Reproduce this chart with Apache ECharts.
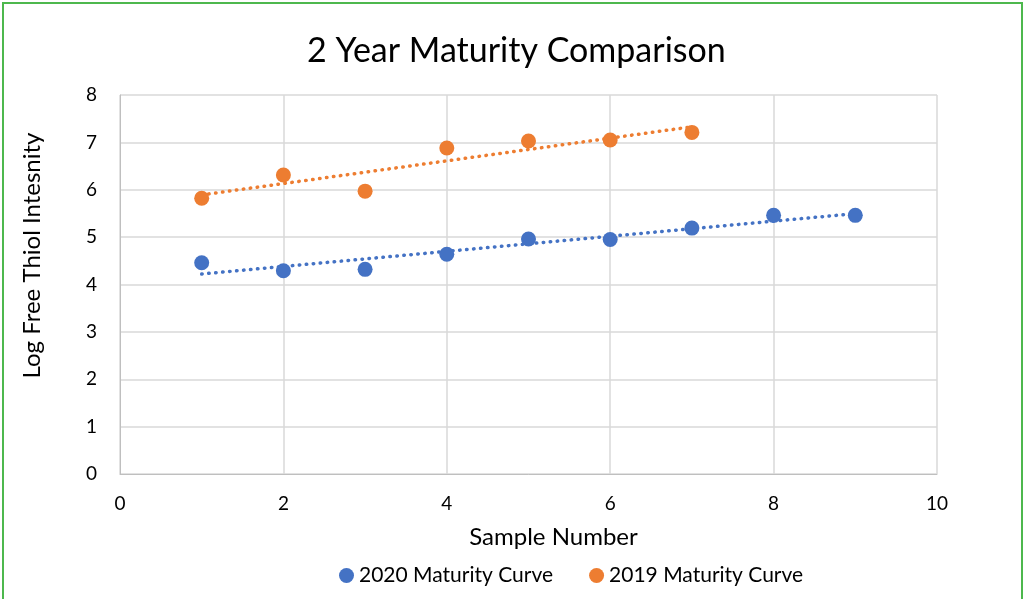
<!DOCTYPE html>
<html><head><meta charset="utf-8">
<script src="https://cdn.jsdelivr.net/npm/echarts@6/dist/echarts.min.js"></script>
<style>
html,body{margin:0;padding:0;background:#fff;}
#wrap{position:absolute;left:2px;top:2px;width:1021px;height:600px;border:2px solid #4db84d;border-bottom:none;box-sizing:border-box;}
#c{position:absolute;left:0;top:0;width:1026px;height:599px;}
</style></head>
<body>
<div id="c"></div>
<div id="wrap"></div>
<script>
const title = "2 Year Maturity Comparison";
const xName = "Sample Number";
const yName = "Log Free Thiol Intesnity";
const name2020 = "2020 Maturity Curve";
const name2019 = "2019 Maturity Curve";
const x2020 = [1,2,3,4,5,6,7,8,9];
const y2020 = [4.46,4.29,4.32,4.64,4.96,4.95,5.19,5.46,5.46];
const x2019 = [1,2,3,4,5,6,7];
const y2019 = [5.82,6.31,5.97,6.88,7.03,7.05,7.21];

function trend(xs, ys){
  const n = xs.length;
  let sx=0,sy=0,sxx=0,sxy=0;
  for(let i=0;i<n;i++){sx+=xs[i];sy+=ys[i];sxx+=xs[i]*xs[i];sxy+=xs[i]*ys[i];}
  const b=(n*sxy-sx*sy)/(n*sxx-sx*sx), a=(sy-b*sx)/n;
  const x0=xs[0], x1=xs[n-1];
  return [[x0,a+b*x0],[x1,a+b*x1]];
}
const pts = (xs,ys)=>xs.map((x,i)=>[x,ys[i]]);
const blue="#4472c4", orange="#ed7d31";
const font="Lato, 'Open Sans', sans-serif";
const chart = echarts.init(document.getElementById('c'));
chart.setOption({
  animation:false,
  textStyle:{fontFamily:font},
  title:{text:title,left:302,top:29,textStyle:{fontFamily:font,fontSize:34,fontWeight:'normal',color:'#000'}},
  grid:{left:120,right:89,top:95,bottom:125},
  legend:{bottom:8,left:334,itemGap:36,itemWidth:15,itemHeight:15,
    data:[{name:name2020,icon:'circle'},{name:name2019,icon:'circle'}],
    textStyle:{fontFamily:font,fontSize:21,color:'#000'}},
  xAxis:{type:'value',min:0,max:10,interval:2,name:xName,nameLocation:'middle',nameGap:51,
    nameTextStyle:{fontFamily:font,fontSize:24,color:'#000',padding:[0,0,0,50]},
    axisLine:{show:true,lineStyle:{color:'#bfbfbf'}},axisTick:{show:false},
    axisLabel:{fontSize:19,color:'#000',margin:20,fontFamily:font},
    splitLine:{lineStyle:{color:'#d9d9d9',width:1.5}}},
  yAxis:{type:'value',min:0,max:8,interval:1,name:yName,nameLocation:'middle',nameGap:76,
    nameTextStyle:{fontFamily:font,fontSize:24,color:'#000',padding:[0,0,0,58]},
    axisLine:{show:true,lineStyle:{color:'#bfbfbf'}},axisTick:{show:false},
    axisLabel:{fontSize:19,color:'#000',margin:23,fontFamily:font},
    splitLine:{lineStyle:{color:'#d9d9d9',width:1.5}}},
  series:[
    {name:name2020,type:'scatter',data:pts(x2020,y2020),symbolSize:15,itemStyle:{color:blue,opacity:1},z:3},
    {name:name2019,type:'scatter',data:pts(x2019,y2019),symbolSize:15,itemStyle:{color:orange,opacity:1},z:3},
    {name:'t2020',type:'line',data:trend(x2020,y2020),symbol:'none',lineStyle:{color:blue,width:3.5,type:[0.5,6.5],cap:'round'},z:2},
    {name:'t2019',type:'line',data:trend(x2019,y2019),symbol:'none',lineStyle:{color:orange,width:3.5,type:[0.5,6.5],cap:'round'},z:2}
  ]
});
</script>
</body></html>
